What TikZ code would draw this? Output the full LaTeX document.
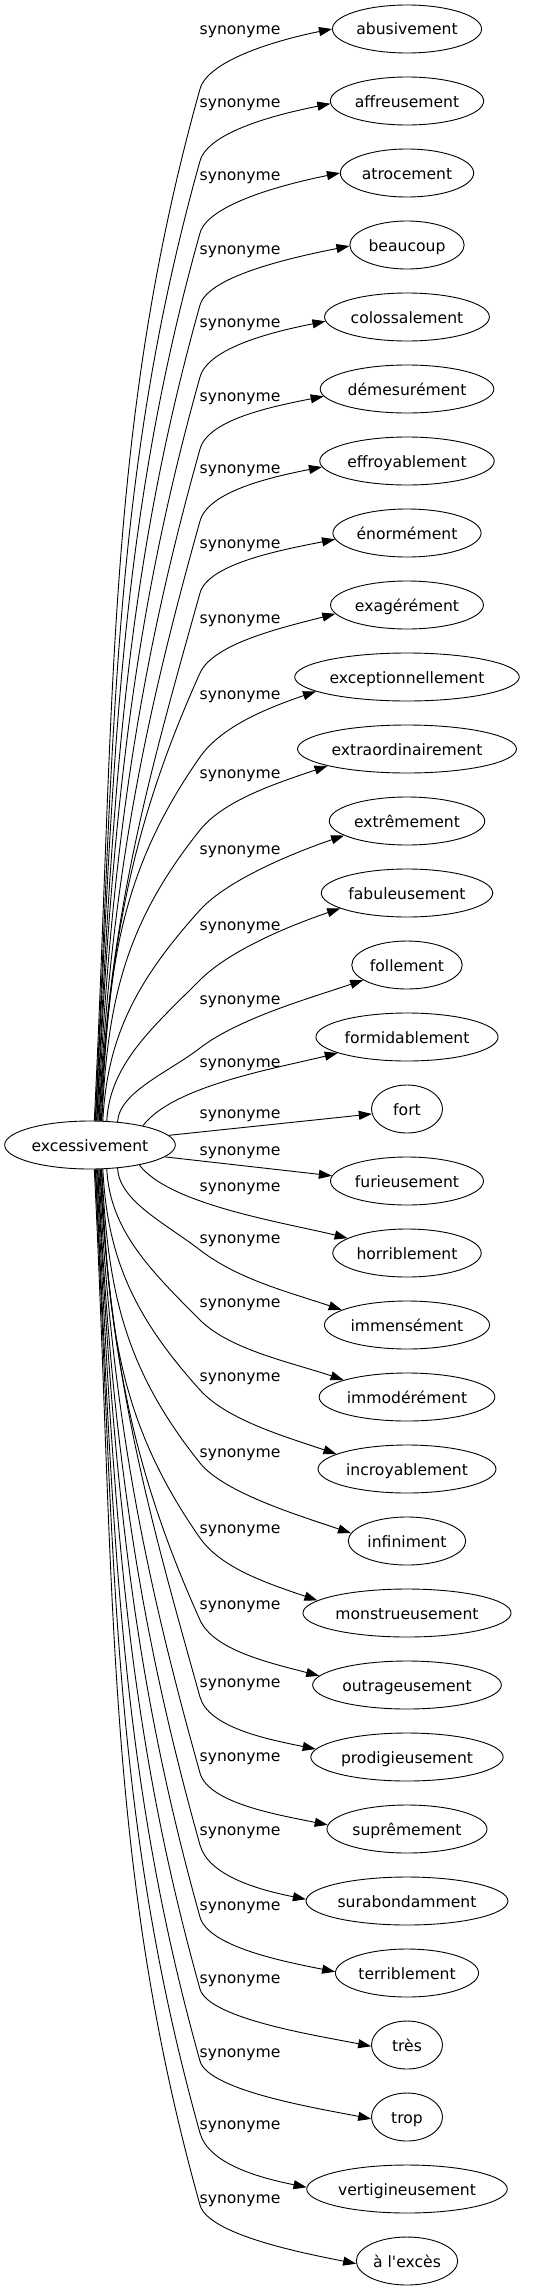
\documentclass[tikz,border=0pt]{standalone}
\usepackage{fontspec}
\setmainfont{DejaVu Sans}
\usetikzlibrary{arrows.meta,shapes.geometric}
\begin{document}
\begin{tikzpicture}[x=1pt,y=-1pt,
  txt/.style={font=\fontsize{15.6}{18}\selectfont, text height=15pt, text depth=3pt},
  tgt/.style={txt, draw, ellipse, line width=0.9pt, inner xsep=2pt, inner ysep=2pt, minimum height=48pt, minimum width=71pt},
  lab/.style={txt, inner sep=0pt},
  edge/.style={line width=0.9pt, -{Triangle[length=13pt,width=9pt]}}]
\useasboundingbox (0,0) rectangle (546,2291);
\node[tgt] (src) at (90,1145) {excessivement};
\foreach \i/\t/\ly in {0/abusivement/30, 1/affreusement/102, 2/atrocement/175, 3/beaucoup/249,
  4/colossalement/322, 5/démesurément/396, 6/effroyablement/468, 7/énormément/543,
  8/exagérément/618, 9/exceptionnellement/694, 10/extraordinairement/773, 11/extrêmement/849,
  12/fabuleusement/925, 13/follement/999, 14/formidablement/1062, 15/fort/1113,
  16/furieusement/1150, 17/horriblement/1186, 18/immensément/1238, 19/immodérément/1302,
  20/incroyablement/1376, 21/infiniment/1452, 22/monstrueusement/1528, 23/outrageusement/1604,
  24/prodigieusement/1682, 25/suprêmement/1756, 26/surabondamment/1830, 27/terriblement/1905,
  28/très/1978, 29/trop/2052, 30/vertigineusement/2124, 31/à l\textquotesingle excès/2198}{
  \pgfmathsetmacro\ty{29+72*\i}
  \node[tgt] (t\i) at (407,\ty) {\t};
  \node[lab] (l\i) at (240,\ly-1) {synonyme};
}
% near edges
\draw[edge] (src.7) -- (t15.188);
\draw[edge] (src.351) -- (t16.176);
\draw[edge] (src.20) .. controls +(30,-40) and +(-60,15) .. (t14.193);
\draw[edge] (src.338) .. controls +(30,40) and +(-60,-15) .. (t17.166);
% curved edges
\foreach \i/\v/\off/\p/\sa/\ta/\e in {
  13/-1/83/1.3/40/199/17, 12/-1/87/1.0/55/193/17, 11/-1/89/0.9/62/193/17,
  10/-1/81/0.8/64/192/17, 9/-1/80/0.7/65/189/17, 8/-1/68/0.45/67/187/13,
  7/-1/60/0.28/69/185/10, 6/-1/60/0.28/70/184/10, 5/-1/60/0.28/72/185/10,
  4/-1/60/0.28/74/183/10, 3/-1/60/0.28/75/181/10, 2/-1/60/0.28/77/180/10,
  1/-1/60/0.28/78/182/10, 0/-1/60/0.28/80/180/10,
  18/1/75/1.3/320/167/17, 19/1/77/1.0/305/165/17, 20/1/79/0.9/298/168/17,
  21/1/78/0.8/296/172/17, 22/1/75/0.7/295/172/17, 23/1/65/0.45/293/174/13,
  24/1/60/0.28/292/175/10, 25/1/56/0.28/290/177/10, 26/1/56/0.28/288/179/10,
  27/1/56/0.28/287/179/10, 28/1/56/0.28/285/182/10, 29/1/56/0.28/283/183/10,
  30/1/56/0.28/282/179/10, 31/1/56/0.28/280/183/10}{
  \pgfmathsetmacro\my{29+72*\i-(\v)*\off}
  \pgfmathsetmacro\H{abs(1145+(\v)*23-\my)}
  \pgfmathsetmacro\ax{0.02*\H}
  \pgfmathsetmacro\ay{(\v)*0.4*\H}
  \pgfmathsetmacro\bx{-1*\p*0.33*\H}
  \pgfmathsetmacro\by{-1*(\v)*0.33*\H}
  \pgfmathsetmacro\cx{\p*30}
  \pgfmathsetmacro\cy{(\v)*30}
  \pgfmathsetmacro\dy{-1*(\v)*\e}
  \draw[edge] (src.\sa) .. controls +(\ax,\ay) and +(\bx,\by) .. (200,\my)
     .. controls +(\cx,\cy) and +(-50,\dy) .. (t\i.\ta);
}
\end{tikzpicture}
\end{document}
